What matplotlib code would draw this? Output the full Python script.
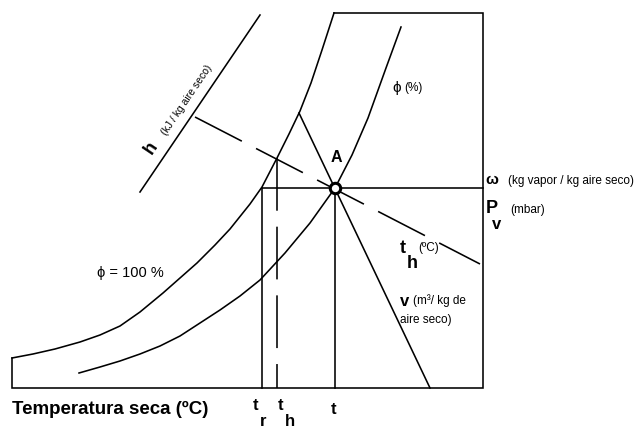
import matplotlib
matplotlib.use("Agg")
import matplotlib.pyplot as plt

plt.rcParams['font.family'] = ['Liberation Sans', 'DejaVu Sans']

# Schematic psychrometric chart, coordinates in chart units (pixel-like, y downward)
sat_x = [12, 33, 55, 80, 100, 120, 140, 163, 180, 197, 215, 230, 250, 262, 277, 289, 300, 311, 322, 334]
sat_y = [358, 354, 349, 342, 335, 326, 312, 293, 278, 263, 245, 229, 204, 187, 158, 134, 111, 83, 50, 13]

phi_x = [79, 100, 120, 140, 160, 180, 200, 220, 240, 260, 285, 310, 335, 352, 368, 386, 401]
phi_y = [373, 367, 361, 354, 346, 336, 323, 310, 296, 280, 253, 223, 188, 155, 118, 68, 27]

box_x = [12, 12, 483, 483, 334]
box_y = [358, 388, 388, 13, 13]

h_x = [140, 260]
h_y = [192, 15]

th_x = [195, 480]
th_y = [117, 264]

v_x = [299, 430]
v_y = [113, 388]

A = (335, 188)
t_r = 262
t_h = 277
omega_y = 188

fig = plt.figure(figsize=(6.42, 4.28), dpi=100)
ax = fig.add_axes([0, 0, 1, 1])
ax.set_xlim(0, 642)
ax.set_ylim(428, 0)
ax.axis('off')

lw = 1.15
k = 'black'
ax.plot(sat_x, sat_y, color=k, lw=lw, solid_joinstyle='round')
ax.plot(phi_x, phi_y, color=k, lw=lw, solid_joinstyle='round')
ax.plot(box_x, box_y, color=k, lw=lw, solid_joinstyle='miter')
ax.plot(h_x, h_y, color=k, lw=lw)
ax.plot(th_x, th_y, color=k, lw=lw, dashes=(33, 10))
ax.plot(v_x, v_y, color=k, lw=lw)
ax.plot([t_r, 483], [omega_y, omega_y], color=k, lw=lw)
ax.plot([t_r, t_r], [omega_y, 388], color=k, lw=lw)
ax.plot([t_h, t_h], [158, 388], color=k, lw=lw, dashes=(33, 10))
ax.plot([A[0], A[0]], [A[1], 388], color=k, lw=lw)
ax.plot([A[0]], [A[1]], marker='o', ms=7.5, mfc='white', mec=k, mew=2.2)

small = 8.5
# labels
ax.text(151, 148, 'h', fontsize=13, fontweight='bold', rotation=56, ha='center', va='center')
ax.text(187, 100, '(kJ / kg aire seco)', fontsize=7.5, rotation=56, ha='center', va='center')
ax.text(397, 88, 'ϕ', fontsize=11, ha='center', va='center')
ax.text(404, 88, '(%)', fontsize=small, ha='left', va='center')
ax.text(336, 157, 'A', fontsize=11.5, fontweight='bold', ha='center', va='center')
ax.text(485, 180, 'ω', fontsize=11, fontweight='bold', ha='left', va='center')
ax.text(508, 181, '(kg vapor / kg aire seco)', fontsize=small, ha='left', va='center')
ax.text(486, 208, 'P', fontsize=13, fontweight='bold', ha='left', va='center')
ax.text(492, 224, 'v', fontsize=12, fontweight='bold', ha='left', va='center')
ax.text(510, 210, '(mbar)', fontsize=small, ha='left', va='center')
ax.text(403, 248, 't', fontsize=13, fontweight='bold', ha='center', va='center')
ax.text(412, 264, 'h', fontsize=13, fontweight='bold', ha='center', va='center')
ax.text(418, 248, '(ºC)', fontsize=small, ha='left', va='center')
ax.text(405, 302, 'v', fontsize=12, fontweight='bold', ha='center', va='center')
ax.text(413, 301, '(m³/ kg de', fontsize=small, ha='left', va='center')
ax.text(400, 320, 'aire seco)', fontsize=small, ha='left', va='center')
ax.text(97, 273, 'ϕ = 100 %', fontsize=10.5, ha='left', va='center')
ax.text(12, 409, 'Temperatura seca (ºC)', fontsize=13.5, fontweight='bold', ha='left', va='center')
ax.text(256, 405, 't', fontsize=12, fontweight='bold', ha='center', va='center')
ax.text(263, 422, 'r', fontsize=12, fontweight='bold', ha='center', va='center')
ax.text(281, 405, 't', fontsize=12, fontweight='bold', ha='center', va='center')
ax.text(290, 422, 'h', fontsize=12, fontweight='bold', ha='center', va='center')
ax.text(334, 410, 't', fontsize=12, fontweight='bold', ha='center', va='center')

fig.savefig('out.png', dpi=100)
